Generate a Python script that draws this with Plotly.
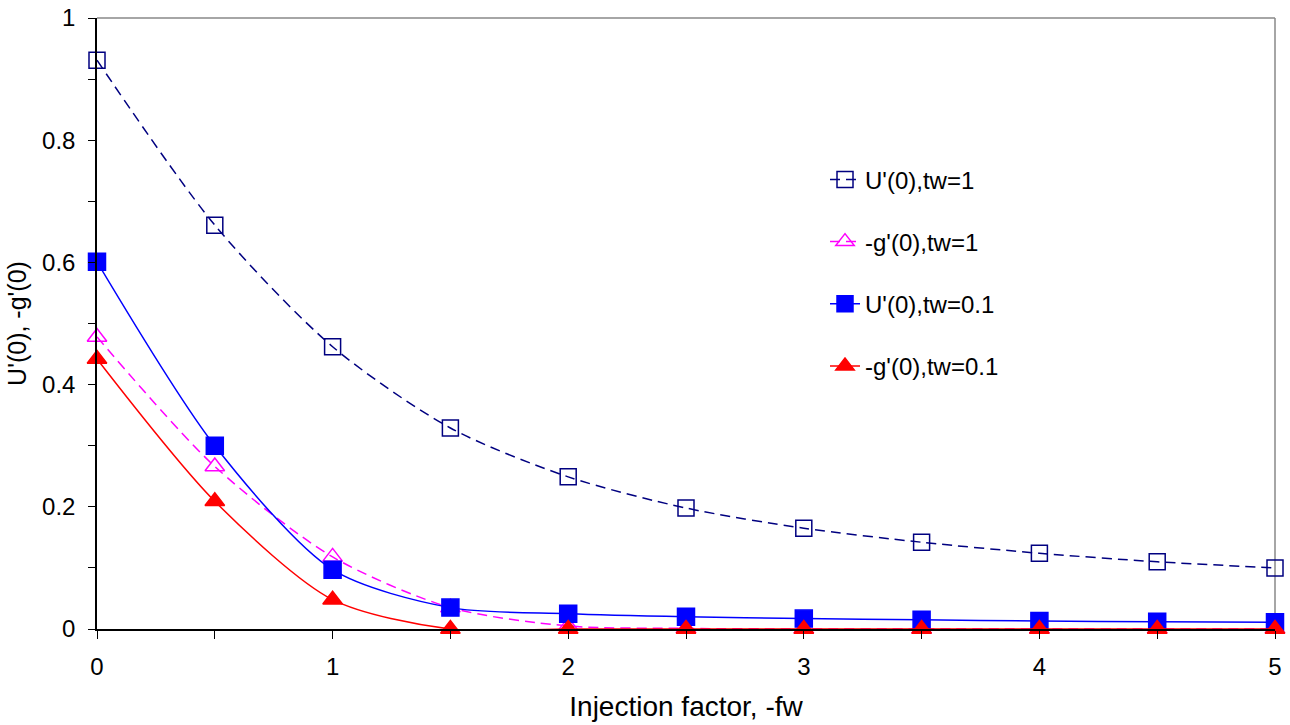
import plotly.graph_objects as go

# Injection factor values (-fw)
fw = [0, 0.5, 1, 1.5, 2, 2.5, 3, 3.5, 4, 4.5, 5]

# Wall shear U'(0) and wall heat flux -g'(0) for two wall temperatures
u_tw1 = [0.931, 0.661, 0.462, 0.329, 0.249, 0.198, 0.165, 0.142, 0.124, 0.110, 0.100]
g_tw1 = [0.478, 0.266, 0.118, 0.035, 0.005, 0.001, 0.0, 0.0, 0.0, 0.0, 0.0]
u_tw01 = [0.601, 0.300, 0.097, 0.035, 0.025, 0.020, 0.017, 0.015, 0.013, 0.012, 0.011]
g_tw01 = [0.442, 0.209, 0.048, 0.0, 0.0, 0.0, 0.0, 0.0, 0.0, 0.0, 0.0]

names = ["U'(0),tw=1", "-g'(0),tw=1", "U'(0),tw=0.1", "-g'(0),tw=0.1"]

FONT = "Liberation Sans, Arial, sans-serif"

series = [
    (u_tw1, names[0], "#000080", "10px,6px", "square-open", 16),
    (g_tw1, names[1], "#FF00FF", "10px,6px", "triangle-up-open", 17),
    (u_tw01, names[2], "#0000FF", "solid", "square", 17),
    (g_tw01, names[3], "#FF0000", "solid", "triangle-up", 17),
]

fig = go.Figure()
for i, (ys, nm, col, dash, sym, ms) in enumerate(series):
    fig.add_trace(go.Scatter(
        x=fw, y=ys, name=nm, mode="lines+markers",
        line=dict(color=col, width=1.5, dash=dash, shape="spline", smoothing=0.8),
        marker=dict(symbol=sym, size=ms, color=col,
                    line=dict(color=col, width=1.5)),
        legendgroup=f"g{i}",
        cliponaxis=False,
    ))

fig.update_layout(
    width=1290, height=725,
    margin=dict(l=97, r=15, t=18, b=96),
    paper_bgcolor="white", plot_bgcolor="white",
    font=dict(family=FONT, size=24, color="black"),
    showlegend=True,
    legend=dict(
        x=0.618, y=0.772, xanchor="left", yanchor="top",
        bgcolor="rgba(0,0,0,0)", borderwidth=0,
        font=dict(family=FONT, size=24, color="black"),
        traceorder="grouped", tracegroupgap=28,
    ),
    xaxis=dict(
        range=[0, 5], dtick=1, tick0=0, automargin=False,
        showgrid=False, zeroline=False,
        showline=True, linecolor="black", linewidth=1.5,
        ticks="outside", ticklen=8, tickwidth=1, tickcolor="black",
        minor=dict(dtick=0.5, ticks="outside", ticklen=8, tickwidth=1,
                   tickcolor="black", showgrid=False),
        tickfont=dict(family=FONT, size=24),
        ticklabelstandoff=7,
        title=dict(text="Injection factor, -fw", font=dict(family=FONT, size=28),
                   standoff=18),
    ),
    yaxis=dict(
        range=[0, 1], dtick=0.2, tick0=0, automargin=False,
        showgrid=False, zeroline=False,
        showline=True, linecolor="black", linewidth=1.5,
        ticks="outside", ticklen=7, tickwidth=1, tickcolor="black",
        minor=dict(dtick=0.1, ticks="outside", ticklen=7, tickwidth=1,
                   tickcolor="black", showgrid=False),
        tickfont=dict(family=FONT, size=24),
        ticklabelstandoff=8,
        title=dict(text="U'(0), -g'(0)", font=dict(family=FONT, size=25),
                   standoff=8),
    ),
    shapes=[
        dict(type="line", xref="paper", yref="paper", x0=0, x1=1, y0=1, y1=1,
             line=dict(color="#888888", width=1.5), layer="below"),
        dict(type="line", xref="paper", yref="paper", x0=1, x1=1, y0=0, y1=1,
             line=dict(color="#888888", width=1.5), layer="below"),
    ],
)

fig.write_html("out.html")
